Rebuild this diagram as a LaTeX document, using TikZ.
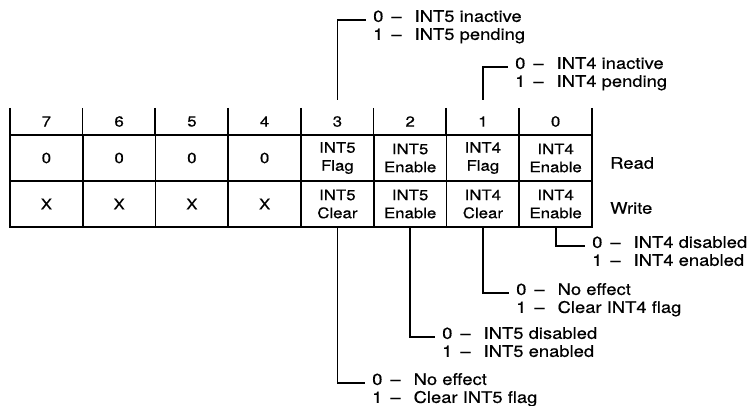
\documentclass[tikz,border=0pt]{standalone}
\usepackage{fontspec}
\setmainfont{TeX Gyre Heros}[FakeStretch=1.15, FakeBold=0.5]
\usetikzlibrary{positioning}

\newcommand{\opt}[2]{#1\hspace{8pt}--\hspace{13pt}#2}

\begin{document}
\begin{tikzpicture}[x=1pt, y=-1pt,
  every node/.style={font=\fontsize{14.6}{18}\selectfont},
  cell/.style={draw, line width=1.8pt, minimum width=72.75pt, minimum height=46pt, inner sep=0pt, align=center},
  hdr/.style={minimum width=72.75pt, minimum height=27pt, inner sep=0pt},
  val/.style={anchor=north west, inner xsep=7pt, inner ysep=0pt, align=left, font=\fontsize{16}{18}\selectfont},
  rw/.style={anchor=west, inner sep=0pt, font=\fontsize{16}{18}\selectfont},
  lead/.style={line width=1.8pt}
]
\useasboundingbox (0,0) rectangle (755,406);

% register bits, 7 down to 0
\foreach \b/\rd/\wr [count=\i from 0] in {7/0/X, 6/0/X, 5/0/X, 4/0/X,
    3/{INT5\\Flag}/{INT5\\Clear}, 2/{INT5\\Enable}/{INT5\\Enable},
    1/{INT4\\Flag}/{INT4\\Clear}, 0/{INT4\\Enable}/{INT4\\Enable}} {
  \node[hdr] (h\b) at ({46.4+72.75*\i}, 121.5) {\b};
  \node[cell] (r\b) at ({46.4+72.75*\i}, 158) {\rd};
  \node[cell] (w\b) at ({46.4+72.75*\i}, 204) {\wr};
  \draw[lead] (h\b.north west) -- (h\b.south west);
}
\draw[lead] (h0.north east) -- (h0.south east);

\node[rw] (rd) at (610,163) {Read};
\node[rw] (wr) at (610,208) {Write};

% flag bits
\node[val] (t3) at (366,10) {\opt{0}{INT5 inactive}\\\opt{1}{INT5 pending}};
\node[val] (t1) at (508,57) {\opt{0}{INT4 inactive}\\\opt{1}{INT4 pending}};
\draw[lead, shorten <=8pt] (h3.north) |- ([yshift=-10pt]t3.north west);
\draw[lead, shorten <=8pt] (h1.north) |- ([yshift=-10pt]t1.north west);

% write bits
\node[val] (b0) at (585,236) {\opt{0}{INT4 disabled}\\\opt{1}{INT4 enabled}};
\node[val] (b1) at (509,283) {\opt{0}{No effect}\\\opt{1}{Clear INT4 flag}};
\node[val] (b2) at (435,327) {\opt{0}{INT5 disabled}\\\opt{1}{INT5 enabled}};
\node[val] (b3) at (365,373) {\opt{0}{No effect}\\\opt{1}{Clear INT5 flag}};
\foreach \b in {0,...,3}
  \draw[lead] (w\b.south) |- ([yshift=-10pt]b\b.north west);
\end{tikzpicture}
\end{document}
